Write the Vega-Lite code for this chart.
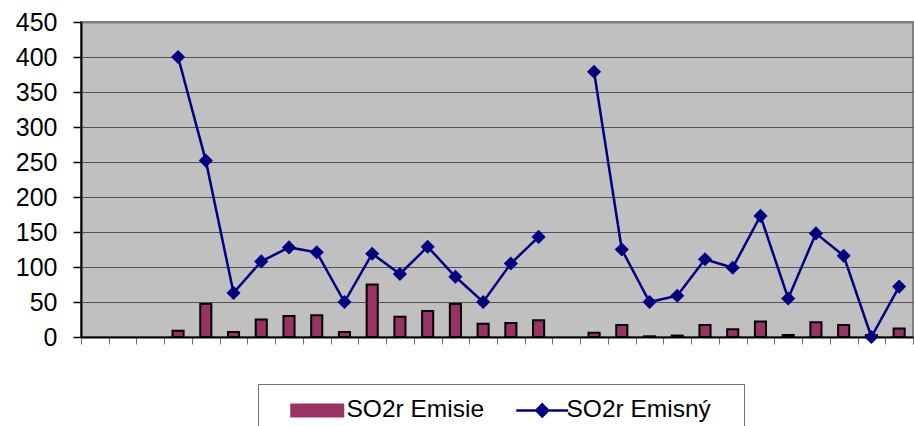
{
  "$schema": "https://vega.github.io/schema/vega-lite/v6.json",
  "autosize": {"type": "none"},
  "padding": {"left": 81, "top": 22, "right": 1, "bottom": 89},
  "width": 832,
  "height": 315,
  "background": "white",
  "config": {
    "view": {"fill": "#C0C0C0", "stroke": "#808080", "strokeWidth": 2},
    "font": "Liberation Sans",
    "axisY": {
      "title": null,
      "values": [0, 50, 100, 150, 200, 250, 300, 350, 400, 450],
      "labelOverlap": false,
      "labelFontSize": 25,
      "labelColor": "black",
      "labelPadding": 16,
      "domainColor": "black",
      "domainWidth": 2,
      "tickColor": "black",
      "tickWidth": 1.5,
      "tickSize": 8,
      "grid": true,
      "gridColor": "#505050",
      "gridWidth": 1,
      "gridOpacity": 1
    },
    "legend": {
      "orient": "none",
      "legendX": 177,
      "legendY": 362,
      "direction": "horizontal",
      "strokeColor": "#707070",
      "fillColor": "white",
      "padding": 14,
      "labelFontSize": 24.5,
      "labelColor": "black",
      "labelFont": "Liberation Sans",
      "labelOffset": 33,
      "columnPadding": 26,
      "symbolSize": 400,
      "titleOrient": "left",
      "titlePadding": 17,
      "titleFontSize": 1
    }
  },
  "data": {
    "values": [
      {"i": 0, "emisie": null, "emisny": null, "seg": 0},
      {"i": 1, "emisie": null, "emisny": null, "seg": 0},
      {"i": 2, "emisie": null, "emisny": null, "seg": 0},
      {"i": 3, "emisie": 9, "emisny": 400, "seg": 1},
      {"i": 4, "emisie": 47, "emisny": 252, "seg": 1},
      {"i": 5, "emisie": 7, "emisny": 63, "seg": 1},
      {"i": 6, "emisie": 25, "emisny": 108, "seg": 1},
      {"i": 7, "emisie": 30, "emisny": 128, "seg": 1},
      {"i": 8, "emisie": 31, "emisny": 121, "seg": 1},
      {"i": 9, "emisie": 7, "emisny": 50, "seg": 1},
      {"i": 10, "emisie": 75, "emisny": 119, "seg": 1},
      {"i": 11, "emisie": 29, "emisny": 90, "seg": 1},
      {"i": 12, "emisie": 37, "emisny": 129, "seg": 1},
      {"i": 13, "emisie": 47, "emisny": 86, "seg": 1},
      {"i": 14, "emisie": 19, "emisny": 50, "seg": 1},
      {"i": 15, "emisie": 20, "emisny": 105, "seg": 1},
      {"i": 16, "emisie": 24, "emisny": 143, "seg": 1},
      {"i": 17, "emisie": null, "emisny": null, "seg": 0},
      {"i": 18, "emisie": 6, "emisny": 379, "seg": 2},
      {"i": 19, "emisie": 17, "emisny": 125, "seg": 2},
      {"i": 20, "emisie": 1, "emisny": 50, "seg": 2},
      {"i": 21, "emisie": 2, "emisny": 59, "seg": 2},
      {"i": 22, "emisie": 17, "emisny": 111, "seg": 2},
      {"i": 23, "emisie": 11, "emisny": 99, "seg": 2},
      {"i": 24, "emisie": 22, "emisny": 173, "seg": 2},
      {"i": 25, "emisie": 3, "emisny": 55, "seg": 2},
      {"i": 26, "emisie": 21, "emisny": 148, "seg": 2},
      {"i": 27, "emisie": 17, "emisny": 116, "seg": 2},
      {"i": 28, "emisie": 3, "emisny": 0, "seg": 2},
      {"i": 29, "emisie": 12, "emisny": 72, "seg": 2}
    ]
  },
  "encoding": {
    "x": {
      "field": "i",
      "type": "ordinal",
      "scale": {
        "domain": [0, 1, 2, 3, 4, 5, 6, 7, 8, 9, 10, 11, 12, 13, 14, 15, 16, 17, 18, 19, 20, 21, 22, 23, 24, 25, 26, 27, 28, 29],
        "paddingInner": 0,
        "paddingOuter": 0
      },
      "axis": {
        "title": null,
        "labels": false,
        "domainColor": "black",
        "domainWidth": 2,
        "tickBand": "extent",
        "tickColor": "#707070",
        "tickWidth": 1,
        "tickSize": 7,
        "grid": false,
        "encode": {"ticks": {"update": {"y": {"value": -8}, "y2": {"value": 7}}}}
      }
    },
    "y": {
      "field": "emisny",
      "type": "quantitative",
      "scale": {"domain": [0, 450], "nice": false},
      "axis": {
        "gridColor": {"condition": {"test": "datum.value === 450", "value": "#808080"}, "value": "#505050"},
        "gridWidth": {"condition": {"test": "datum.value === 450", "value": 2}, "value": 1}
      }
    }
  },
  "layer": [
    {
      "transform": [{"filter": "datum.emisie !== null"}],
      "mark": {"type": "bar", "stroke": "black", "strokeWidth": 2, "width": {"band": 0.4}},
      "encoding": {
        "y": {
          "field": "emisie",
          "type": "quantitative",
          "scale": {"domain": [0, 450], "nice": false},
          "axis": {
            "gridColor": {"condition": {"test": "datum.value === 450", "value": "#808080"}, "value": "#505050"},
            "gridWidth": {"condition": {"test": "datum.value === 450", "value": 2}, "value": 1}
          }
        },
        "color": {
          "datum": "SO2r Emisie",
          "type": "nominal",
          "scale": {"domain": ["SO2r Emisie", "SO2r Emisný"], "range": ["#993366", "#000080"]},
          "legend": {
            "title": " ",
            "encode": {
              "labels": {"update": {"dx": {"signal": "datum.value === 'SO2r Emisný' ? -5 : 0"}}},
              "symbols": {
                "update": {
                  "shape": {"signal": "datum.value === 'SO2r Emisie' ? 'M-1,-0.6H4.2V0.6H-1Z' : 'M-1,0H4.2M1.6,-0.6L2.2,0L1.6,0.6L1,0ZM19.8,0'"},
                  "fill": {"signal": "datum.value === 'SO2r Emisie' ? '#993366' : '#000080'"},
                  "stroke": {"signal": "datum.value === 'SO2r Emisie' ? '#000000' : '#000080'"},
                  "strokeWidth": {"signal": "datum.value === 'SO2r Emisie' ? 2 : 2.5"},
                  "opacity": {"value": 1},
                  "fillOpacity": {"value": 1},
                  "strokeOpacity": {"value": 1}
                }
              }
            }
          }
        }
      }
    },
    {
      "transform": [{"filter": "datum.emisny !== null"}],
      "mark": {
        "type": "line",
        "strokeWidth": 2.5,
        "point": {"shape": "diamond", "size": 200, "filled": true, "color": "#000080", "opacity": 1}
      },
      "encoding": {
        "detail": {"field": "seg", "type": "nominal"},
        "color": {
          "datum": "SO2r Emisný",
          "type": "nominal",
          "legend": {
            "title": " ",
            "encode": {
              "labels": {"update": {"dx": {"signal": "datum.value === 'SO2r Emisný' ? -5 : 0"}}},
              "symbols": {
                "update": {
                  "shape": {"signal": "datum.value === 'SO2r Emisie' ? 'M-1,-0.6H4.2V0.6H-1Z' : 'M-1,0H4.2M1.6,-0.6L2.2,0L1.6,0.6L1,0ZM19.8,0'"},
                  "fill": {"signal": "datum.value === 'SO2r Emisie' ? '#993366' : '#000080'"},
                  "stroke": {"signal": "datum.value === 'SO2r Emisie' ? '#000000' : '#000080'"},
                  "strokeWidth": {"signal": "datum.value === 'SO2r Emisie' ? 2 : 2.5"},
                  "opacity": {"value": 1},
                  "fillOpacity": {"value": 1},
                  "strokeOpacity": {"value": 1}
                }
              }
            }
          }
        }
      }
    }
  ]
}
